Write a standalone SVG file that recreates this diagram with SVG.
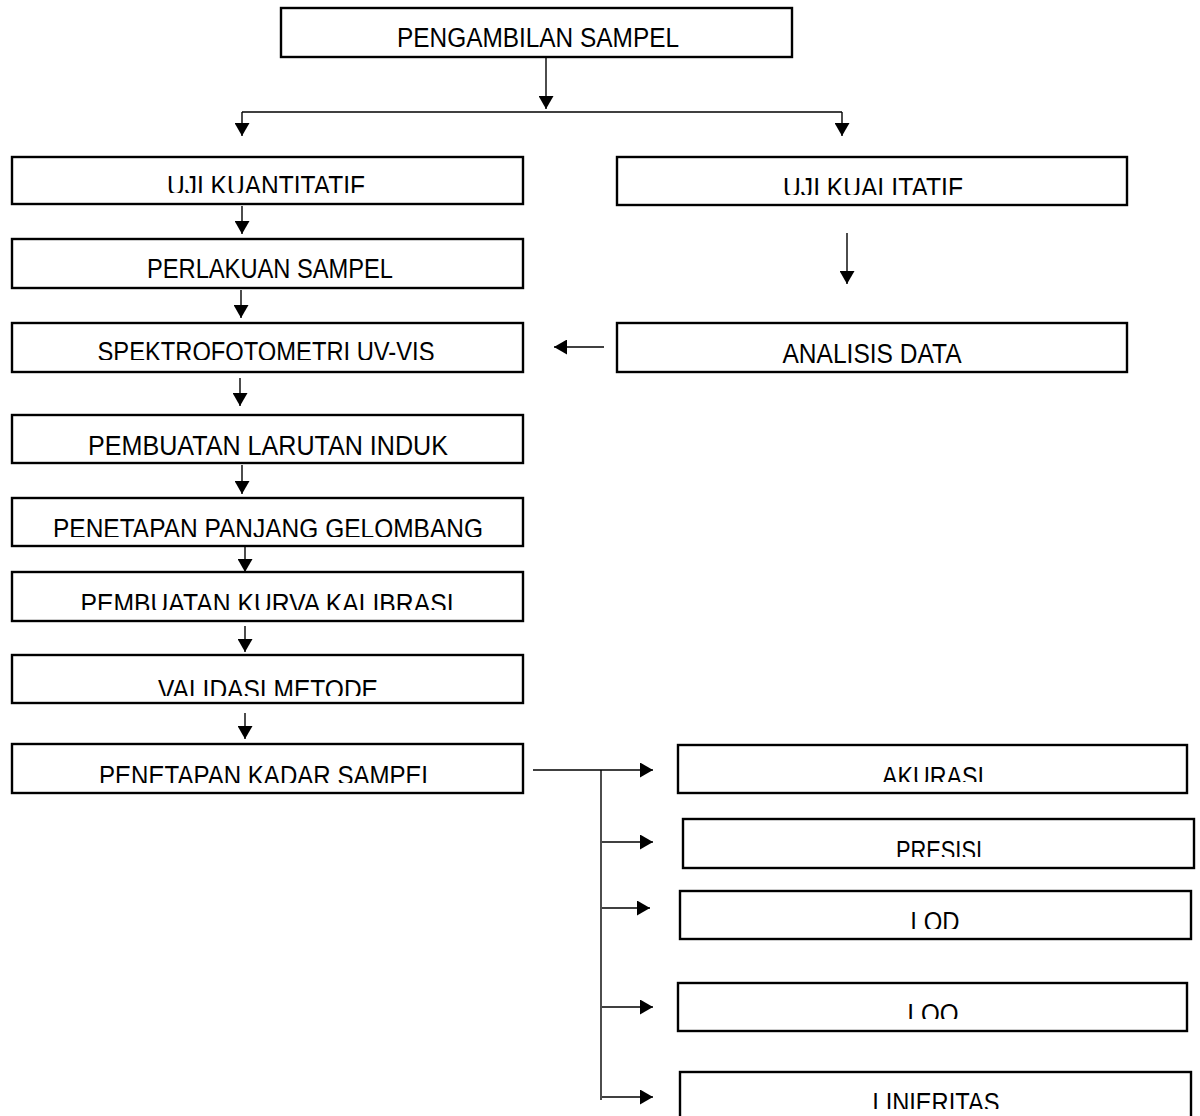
<svg xmlns="http://www.w3.org/2000/svg" width="1200" height="1116" viewBox="0 0 1200 1116">
<style>
.box{fill:#fff;stroke:#000;stroke-width:2.4}
.lbl{font-family:"Liberation Sans",Arial,sans-serif;font-size:27px;fill:#000;text-anchor:middle}
.con{stroke:#000;stroke-width:1.4;fill:none}
.arr{marker-end:url(#ah)}
</style>
<defs>
<marker id="ah" markerUnits="userSpaceOnUse" markerWidth="14" markerHeight="15" refX="13" refY="7.5" orient="auto">
<path d="M0,0 L13,7.5 L0,15 z" fill="#000"/>
</marker>
<clipPath id="c1"><rect x="0" y="0" width="1200" height="193"/></clipPath>
<clipPath id="c1b"><rect x="0" y="0" width="1200" height="195"/></clipPath>
<clipPath id="c2"><rect x="0" y="0" width="1200" height="360"/></clipPath>
<clipPath id="c3"><rect x="0" y="0" width="1200" height="537"/></clipPath>
<clipPath id="c4"><rect x="0" y="0" width="1200" height="610"/></clipPath>
<clipPath id="c5"><rect x="0" y="0" width="1200" height="696"/></clipPath>
<clipPath id="c6"><rect x="0" y="0" width="1200" height="783"/></clipPath>
<clipPath id="c7"><rect x="0" y="0" width="1200" height="782"/></clipPath>
<clipPath id="c8"><rect x="0" y="0" width="1200" height="857"/></clipPath>
<clipPath id="c9"><rect x="0" y="0" width="1200" height="929"/></clipPath>
<clipPath id="c10"><rect x="0" y="0" width="1200" height="1019"/></clipPath>
<clipPath id="c11"><rect x="0" y="0" width="1200" height="1109"/></clipPath>
</defs>
<rect width="1200" height="1116" fill="#fff"/>

<g id="connectors">
<line class="con arr" x1="546" y1="58" x2="546" y2="109"/>
<line class="con" x1="242" y1="112" x2="842" y2="112"/>
<line class="con arr" x1="242" y1="112" x2="242" y2="136"/>
<line class="con arr" x1="842" y1="112" x2="842" y2="136"/>
<line class="con arr" x1="242" y1="206" x2="242" y2="234"/>
<line class="con arr" x1="241" y1="290" x2="241" y2="318"/>
<line class="con arr" x1="847" y1="233" x2="847" y2="284"/>
<line class="con arr" x1="604" y1="347" x2="554" y2="347"/>
<line class="con arr" x1="240" y1="378" x2="240" y2="406"/>
<line class="con arr" x1="242" y1="465" x2="242" y2="494"/>
<line class="con arr" x1="245" y1="547" x2="245" y2="572"/>
<line class="con arr" x1="245" y1="626" x2="245" y2="652"/>
<line class="con arr" x1="245" y1="713" x2="245" y2="739"/>
<line class="con arr" x1="533" y1="770" x2="653" y2="770"/>
<line class="con" x1="601" y1="770" x2="601" y2="1100"/>
<line class="con arr" x1="602" y1="842" x2="653" y2="842"/>
<line class="con arr" x1="602" y1="908" x2="650" y2="908"/>
<line class="con arr" x1="602" y1="1007" x2="653" y2="1007"/>
<line class="con arr" x1="602" y1="1097" x2="653" y2="1097"/>
</g>

<g id="pengambilan"><rect class="box" x="281" y="8" width="511" height="49"/><text class="lbl" x="538" y="47" textLength="282" lengthAdjust="spacingAndGlyphs">PENGAMBILAN SAMPEL</text></g>
<g id="uji-kuantitatif"><rect class="box" x="12" y="157" width="511" height="47"/><text class="lbl" x="266" y="195" clip-path="url(#c1)" textLength="198" lengthAdjust="spacingAndGlyphs">UJI KUANTITATIF</text></g>
<g id="uji-kualitatif"><rect class="box" x="617" y="157" width="510" height="48"/><text class="lbl" x="873" y="197" clip-path="url(#c1b)" textLength="180" lengthAdjust="spacingAndGlyphs">UJI KUALITATIF</text></g>
<g id="perlakuan"><rect class="box" x="12" y="239" width="511" height="49"/><text class="lbl" x="270" y="278" textLength="246" lengthAdjust="spacingAndGlyphs">PERLAKUAN SAMPEL</text></g>
<g id="spektro"><rect class="box" x="12" y="323" width="511" height="49"/><text class="lbl" x="266" y="361" clip-path="url(#c2)" textLength="337" lengthAdjust="spacingAndGlyphs">SPEKTROFOTOMETRI UV-VIS</text></g>
<g id="analisis"><rect class="box" x="617" y="323" width="510" height="49"/><text class="lbl" x="872" y="363" textLength="179" lengthAdjust="spacingAndGlyphs">ANALISIS DATA</text></g>
<g id="larutan"><rect class="box" x="12" y="415" width="511" height="48"/><text class="lbl" x="268" y="455" textLength="360" lengthAdjust="spacingAndGlyphs">PEMBUATAN LARUTAN INDUK</text></g>
<g id="panjang"><rect class="box" x="12" y="498" width="511" height="48"/><text class="lbl" x="268" y="538" clip-path="url(#c3)" textLength="430" lengthAdjust="spacingAndGlyphs">PENETAPAN PANJANG GELOMBANG</text></g>
<g id="kurva"><rect class="box" x="12" y="572" width="511" height="49"/><text class="lbl" x="267" y="613" clip-path="url(#c4)" textLength="373" lengthAdjust="spacingAndGlyphs">PEMBUATAN KURVA KALIBRASI</text></g>
<g id="validasi"><rect class="box" x="12" y="655" width="511" height="48"/><text class="lbl" x="268" y="699" clip-path="url(#c5)" textLength="220" lengthAdjust="spacingAndGlyphs">VALIDASI METODE</text></g>
<g id="kadar"><rect class="box" x="12" y="744" width="511" height="49"/><text class="lbl" x="267" y="785" clip-path="url(#c6)" textLength="336" lengthAdjust="spacingAndGlyphs">PENETAPAN KADAR SAMPEL</text></g>
<g id="akurasi"><rect class="box" x="678" y="745" width="509" height="48"/><text class="lbl" x="933" y="786" clip-path="url(#c7)" textLength="102" lengthAdjust="spacingAndGlyphs">AKURASI</text></g>
<g id="presisi"><rect class="box" x="683" y="819" width="511" height="49"/><text class="lbl" x="939" y="860" clip-path="url(#c8)" textLength="86" lengthAdjust="spacingAndGlyphs">PRESISI</text></g>
<g id="lod"><rect class="box" x="680" y="891" width="511" height="48"/><text class="lbl" x="935" y="931" clip-path="url(#c9)" textLength="49" lengthAdjust="spacingAndGlyphs">LOD</text></g>
<g id="loo"><rect class="box" x="678" y="983" width="509" height="48"/><text class="lbl" x="933" y="1023" clip-path="url(#c10)" textLength="51" lengthAdjust="spacingAndGlyphs">LOO</text></g>
<g id="linieritas"><rect class="box" x="680" y="1072" width="511" height="60"/><text class="lbl" x="936" y="1112" clip-path="url(#c11)" textLength="127" lengthAdjust="spacingAndGlyphs">LINIERITAS</text></g>
</svg>
